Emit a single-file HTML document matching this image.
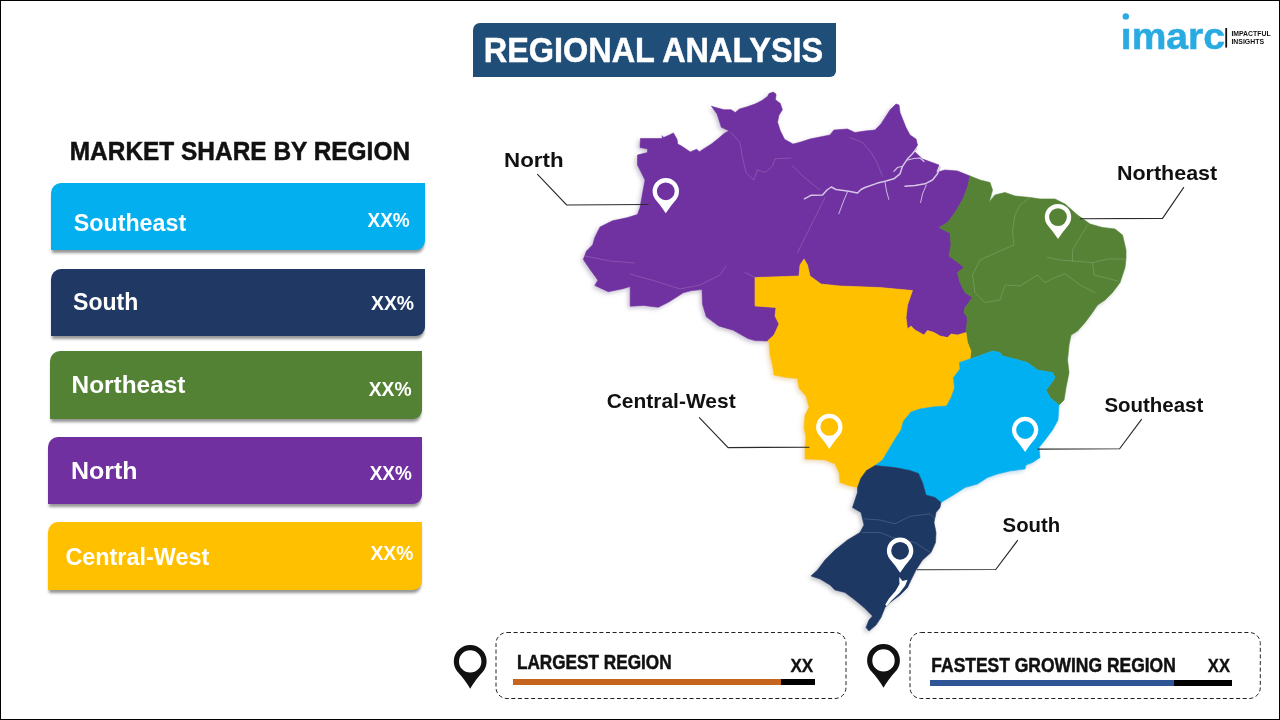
<!DOCTYPE html>
<html><head><meta charset="utf-8"><title>Regional Analysis</title>
<style>
html,body{margin:0;padding:0;}
body{width:1280px;height:720px;position:relative;overflow:hidden;background:#fff;font-family:"Liberation Sans",sans-serif;}
.frame{position:absolute;left:0;top:0;width:1278px;height:718px;border:1px solid #000;}
.t{position:absolute;white-space:nowrap;font-weight:bold;line-height:1;}
.box{position:absolute;border-radius:10px 0 9px 0;box-shadow:0 4px 3px -1px rgba(0,0,0,.42);}
.lbl{color:#111;font-size:20.5px;}
.bt{color:#fff;font-size:23px;}
.pc{color:#fff;font-size:19.5px;}
.dash{position:absolute;border:1px dashed #222;border-radius:11px;box-sizing:border-box;}
</style></head><body>
<div class="frame"></div>
<svg width="1280" height="720" viewBox="0 0 1280 720" style="position:absolute;left:0;top:0">
<defs>
<filter id="ms" x="-10%" y="-10%" width="120%" height="120%"><feGaussianBlur in="SourceGraphic" stdDeviation="2.2"/><feOffset dx="-2.5" dy="2"/><feColorMatrix type="matrix" values="0.5 0 0 0 0.15  0 0.5 0 0 0.15  0 0 0.5 0 0.15  0 0 0 0.42 0"/><feMerge><feMergeNode/><feMergeNode in="SourceGraphic"/></feMerge></filter>
</defs>
<g filter="url(#ms)" stroke-linejoin="round">
<path d="M767.5,341 L755,340.6 L747.9,338.5 L733.3,330.2 L718.75,326 L706.25,316.7 L702.5,304.2 L702,289.6 L691.7,290.6 L683.3,292.7 L668.75,302 L658.3,307.3 L643.75,305.4 L630.2,306.25 L630.2,286.5 L622.9,288.7 L608.3,291.7 L594.8,285.4 L597.9,280.2 L589.6,268.75 L583.3,259.4 L586.5,251 L592.7,244.8 L594.8,237.5 L600,227 L612.5,220.8 L627,217.7 L637.5,214.6 L640,207.5 L645,180 L637.5,165 L637.5,155 L647.5,152.5 L647.5,149 L640,147.5 L640.4,138.5 L662.2,138.5 L662.2,135.7 L663.6,137.6 L667.8,135.7 L673.4,132.9 L677,139.2 L677.7,144.1 L681.9,146.3 L690.3,151.9 L696.6,149.3 L699.5,151.7 L704.4,148.4 L711.4,144.1 L718.4,138.5 L724,133.6 L729,130.8 L721.3,127.3 L719.1,120.2 L717,113.9 L711.4,106.2 L718.4,108.3 L724.1,109.7 L731.1,109.7 L735.3,112.5 L739.5,109 L746.6,106.9 L755,104.1 L762,100.5 L767.7,96.3 L769.1,93.5 L773.3,92.1 L776.1,94.2 L775.4,99.8 L780.3,103.4 L782.4,109.7 L778.9,115.3 L777.5,122.3 L780.3,130.8 L784.5,139.2 L793,144.1 L800,142.3 L810,139 L830,135 L834,130 L847.5,129 L855,132.5 L865,131 L875,130 L881,124 L890,110 L896,104 L899,105 L900,112.5 L906,127.5 L910,135 L916,139 L917.5,145 L914,151 L922.5,159 L939,165 L936,172.5 L945,170 L957.5,171 L970,176 L967.5,187.5 L962.5,200 L955,212.5 L947.5,222.5 L939,227.5 L950,233 L951,245 L949,256 L960,264 L964,267.5 L957.5,272.5 L960,282.5 L965,292.5 L972.5,297.5 L965,307.5 L964,312.5 L967.5,317.5 L966,332.5 L957.5,335 L951,334 L947.5,337.5 L940,336 L934,332.5 L927.5,330.5 L924,335 L915,330 L911,326 L907.5,329 L906,317.5 L907.5,305 L912.5,290.5 L880,287.5 L840,286 L821,284 L810,276 L807.5,265 L804,259 L800,265 L799,276 L755,277.5 L755,306 L776,307.5 L775,316 L779,324 L774,335Z" fill="#7030a0" stroke="#7030a0" stroke-width="0.6"/>
<path d="M970,176 L980,180 L990,182.5 L992.5,190 L989,202.5 L995,195 L1005,192.5 L1015,196 L1030,197.5 L1040,199 L1055,199 L1065,204 L1077.5,215 L1090,224 L1102.5,227.5 L1115,229 L1122.5,235 L1126,250 L1126,258 L1125,267.5 L1120,282.5 L1112.5,292.5 L1105,300 L1097.5,305 L1092.5,312.5 L1085,322.5 L1077.5,331 L1071,335 L1069,345 L1067.5,360 L1069,372.5 L1066,387.5 L1064,400 L1059,405 L1050,397.5 L1046,390 L1050,385 L1055,377.5 L1052.5,372.5 L1037.5,370 L1027.5,362.5 L1015,359 L1002.5,356 L1000,352.5 L992.5,351 L980,355.5 L970,359 L971,351 L967.5,342.5 L966,332.5 L967.5,317.5 L964,312.5 L965,307.5 L972.5,297.5 L965,292.5 L960,282.5 L957.5,272.5 L964,267.5 L960,264 L949,256 L951,245 L950,233 L939,227.5 L947.5,222.5 L955,212.5 L962.5,200 L967.5,187.5Z" fill="#548235" stroke="#548235" stroke-width="0.6"/>
<path d="M767.5,341 L769,342.5 L770,355 L772.5,365 L774,375 L786,377.6 L797.2,378.4 L799.2,388.5 L806,396 L809,407.5 L805,415 L804,427.5 L806,437.5 L805,447.5 L805,459 L825,460 L835,464 L839,472.5 L840,482.5 L850,486 L857.5,487.5 L861,478 L866.5,470.5 L875,465.5 L882.5,460 L890,447.5 L896,437.5 L901,430 L903.5,421 L911,412 L920,409 L932.5,407 L946.5,406 L951,398 L954.5,388 L953.5,377.5 L960,369 L959.5,362.5 L970,359 L971,351 L967.5,342.5 L966,332.5 L957.5,335 L951,334 L947.5,337.5 L940,336 L934,332.5 L927.5,330.5 L924,335 L915,330 L911,326 L907.5,329 L906,317.5 L907.5,305 L912.5,290.5 L880,287.5 L840,286 L821,284 L810,276 L807.5,265 L804,259 L800,265 L799,276 L755,277.5 L755,306 L776,307.5 L775,316 L779,324 L774,335Z" fill="#ffc000" stroke="#ffc000" stroke-width="0.6"/>
<path d="M970,359 L980,355.5 L992.5,351 L1000,352.5 L1002.5,356 L1015,359 L1027.5,362.5 L1037.5,370 L1052.5,372.5 L1055,377.5 L1050,385 L1046,390 L1050,397.5 L1059,405 L1058,420 L1052.5,430 L1045,440 L1039,447.5 L1040,457.5 L1032.5,462.5 L1026,465 L1025,469 L1010,471 L997.5,474 L987.5,477.5 L977.5,484 L965,487.5 L955,494 L945,500 L941,502.5 L935,497.5 L926,495 L922.5,482.5 L918.5,473.5 L910,470.5 L895,467.5 L875,465.5 L882.5,460 L890,447.5 L896,437.5 L901,430 L903.5,421 L911,412 L920,409 L932.5,407 L946.5,406 L951,398 L954.5,388 L953.5,377.5 L960,369 L959.5,362.5Z" fill="#00b0f0" stroke="#00b0f0" stroke-width="0.6"/>
<path d="M941,502.5 L940,507.5 L936,512.5 L934,522.5 L936,532.5 L935.5,542.5 L931,552.5 L922.5,560 L916,570 L911,580 L907.5,587.5 L900,595 L890,602.5 L885,607.5 L881,617.5 L876,625 L869,631 L866,627.5 L869,620 L872.5,616 L864,607.5 L855,600 L845,592.5 L835,590 L830,585 L820,579 L811,576 L817.5,570 L825,560 L835,550 L847.5,540 L860,532.5 L864,525 L861,512.5 L852.5,507.5 L855,500 L857.5,492.5 L857.5,487.5 L861,478 L866.5,470.5 L875,465.5 L895,467.5 L910,470.5 L918.5,473.5 L922.5,482.5 L926,495 L935,497.5Z" fill="#1f3864" stroke="#1f3864" stroke-width="0.6"/>
</g>
<g fill="none" stroke-linecap="round" stroke-linejoin="round">
<g stroke="#d6c6e6" stroke-width="1.5">
<polyline points="804.4,198.8 811.3,195.2 822.5,195 827,190 831.3,187 836,189.5 840,190 848.8,191.3 857.5,193 861,189.5 865,187.5 877.5,183.1 885,181.3 893.8,178.8 900,173.8 902.5,166.3 907.5,158.8 912.5,153.8 916.3,148.8"/>
<polyline points="905,186.3 915,185.6 925,183.8 932.5,180 937.5,173.8 940,167"/>
<polyline points="893.8,171.3 897.5,167.5 901.5,166.5" stroke-width="1.2"/>
<polyline points="907.5,160 914,158.5 920,158 924,161.5" stroke-width="1.2"/>
</g>
<g stroke="#d6c6e6" stroke-width="0.9">
<polyline points="847.5,191.9 844,200 838.8,213.8"/>
<polyline points="885,181.9 886.5,191 888.8,199.4"/>
<polyline points="926.3,185 922.5,194 920.6,202.5"/>
</g>
<g stroke="#fff" stroke-opacity="0.2" stroke-width="0.8">
<polyline points="731,132.5 740,142.5 742.5,157.5 746,172.5 753.8,180 757.5,170 765,172.5 772.5,166 775,158.8 791,158"/>
<polyline points="792.5,166 805,178 820,190"/>
<polyline points="825,197.5 810,227.5 797.5,252.5"/>
<polyline points="850,137.5 862.5,142.5 871.3,152.5 877.5,163.8 882.5,176.3"/>
<polyline points="585,256 610,261 635,263"/>
<polyline points="630,274 655,281 680,289 700,285 710,280 720,275 726,266"/>
<polyline points="745,272.5 755,277.5"/>
<polyline points="1030,197.5 1020,205 1015,215 1012.5,230 1013.8,245 1000,251 980,260 972.5,275 975,292.5 985,302.5 1000,300 1005,285 1020,286 1037.5,275 1045,282.5 1055,277.5 1065,273.8 1080,285 1095,292.5"/>
<polyline points="1087.5,225 1080,237.5 1072.5,250 1072.5,261 1060,260 1047.5,257.5"/>
<polyline points="1072.5,261 1092.5,262.5 1108,259 1125,259"/>
<polyline points="1092.5,262.5 1094,275 1118,281"/>
<polyline points="863.8,518.8 880,520 895,523.8 910,516.3 930,513.8 936,520"/>
<polyline points="862.5,532.5 880,532.5 892.5,537.5 915,542.5 930,552.5"/>
</g>
</g>
<path d="M899.2,577 L902.5,581 L907.5,579.8 L905.3,585.5 L899.5,593 L891.5,600.5 L886.5,606.2 L885.3,604.5 L889,598.5 L895.5,591 L899.5,584Z" fill="#fff"/>

<path d="M655.24,199.22 A13.2,13.2 0 1 1 676.36,199.22 Q670.09,206.46 665.8,213.3 Q661.51,206.46 655.24,199.22 Z M674.6999999999999,191.3 A8.9,8.9 0 1 0 656.9,191.3 A8.9,8.9 0 1 0 674.6999999999999,191.3 Z" fill="#fff" fill-rule="evenodd"/>
<path d="M1047.44,225.02 A13.2,13.2 0 1 1 1068.56,225.02 Q1062.29,232.26 1058,239.1 Q1053.71,232.26 1047.44,225.02 Z M1066.9,217.1 A8.9,8.9 0 1 0 1049.1,217.1 A8.9,8.9 0 1 0 1066.9,217.1 Z" fill="#fff" fill-rule="evenodd"/>
<path d="M818.74,434.82 A13.2,13.2 0 1 1 839.86,434.82 Q833.59,442.06 829.3,448.9 Q825.01,442.06 818.74,434.82 Z M838.1999999999999,426.9 A8.9,8.9 0 1 0 820.4,426.9 A8.9,8.9 0 1 0 838.1999999999999,426.9 Z" fill="#fff" fill-rule="evenodd"/>
<path d="M1014.54,437.92 A13.2,13.2 0 1 1 1035.66,437.92 Q1029.39,445.16 1025.1,452.0 Q1020.81,445.16 1014.54,437.92 Z M1034.0,430.0 A8.9,8.9 0 1 0 1016.1999999999999,430.0 A8.9,8.9 0 1 0 1034.0,430.0 Z" fill="#fff" fill-rule="evenodd"/>
<path d="M889.54,558.72 A13.2,13.2 0 1 1 910.66,558.72 Q904.39,565.96 900.1,572.8 Q895.81,565.96 889.54,558.72 Z M909.0,550.8 A8.9,8.9 0 1 0 891.2,550.8 A8.9,8.9 0 1 0 909.0,550.8 Z" fill="#fff" fill-rule="evenodd"/>
<g fill="none" stroke="#2a2a2a" stroke-width="1.15">
<polyline points="537.3,174.2 566.6,205 648.6,204.5"/>
<polyline points="1183.9,187.2 1162.5,218.4 1080,218.7"/>
<polyline points="699.1,417.3 728.1,447.6 809.4,447.2"/>
<polyline points="1141.7,419.2 1119.6,448.8 1037.7,449.1"/>
<polyline points="1017.8,540.2 995.7,569.5 916.9,569.7"/>
</g>
</svg>
<div class="box" style="left:473px;top:23px;width:363px;height:53.5px;background:#1f4e79;border-radius:7px 0 6px 0;box-shadow:none"></div>
<div class="box" style="left:51.3px;top:183px;width:373.7px;height:67px;background:#04aff0"></div>
<div class="box" style="left:51.3px;top:268.8px;width:373.7px;height:67.2px;background:#1f3864"></div>
<div class="box" style="left:50px;top:351px;width:372.2px;height:67.8px;background:#548235"></div>
<div class="box" style="left:48px;top:437px;width:374.2px;height:67.4px;background:#7030a0"></div>
<div class="box" style="left:48px;top:522.2px;width:374.2px;height:67.8px;background:#ffc000"></div>

<div style="position:absolute;left:512.8px;top:679px;width:268.4px;height:6px;background:#c5641c"></div>
<div style="position:absolute;left:781.2px;top:679px;width:33.8px;height:6px;background:#000"></div>
<div style="position:absolute;left:929.9px;top:680px;width:244.4px;height:6px;background:#2f5597"></div>
<div style="position:absolute;left:1174.3px;top:680px;width:57.4px;height:6px;background:#000"></div>
<svg width="1280" height="720" viewBox="0 0 1280 720" style="position:absolute;left:0;top:0;pointer-events:none">
<path d="M457.06,671.22 A16.4,16.4 0 1 1 483.34,671.22 Q474.80,680.40 470.2,688.8 Q465.60,680.40 457.06,671.22 Z M481.4,661.4 A11.2,11.2 0 1 0 459.0,661.4 A11.2,11.2 0 1 0 481.4,661.4 Z" fill="#111" fill-rule="evenodd"/>
<path d="M870.36,670.22 A16.4,16.4 0 1 1 896.64,670.22 Q888.10,679.40 883.5,687.8 Q878.90,679.40 870.36,670.22 Z M894.7,660.4 A11.2,11.2 0 1 0 872.3,660.4 A11.2,11.2 0 1 0 894.7,660.4 Z" fill="#111" fill-rule="evenodd"/>
<g font-family="Liberation Sans, sans-serif" font-weight="bold">
<text transform="translate(483.72,62.20) scale(0.9386,1)" font-size="34.57" fill="#fff" stroke="#fff" stroke-width="0.5">REGIONAL ANALYSIS</text>
<text transform="translate(69.76,160.40) scale(0.9350,1)" font-size="26.14" fill="#111" stroke="#111" stroke-width="0.5">MARKET SHARE BY REGION</text>
<text transform="translate(73.75,230.75) scale(0.9692,1)" font-size="24" fill="#fff">Southeast</text>
<text transform="translate(73.00,309.50) scale(0.9613,1)" font-size="24" fill="#fff">South</text>
<text transform="translate(71.60,393.00) scale(1.0167,1)" font-size="24" fill="#fff">Northeast</text>
<text transform="translate(70.97,479.00) scale(1.0399,1)" font-size="24" fill="#fff">North</text>
<text transform="translate(65.40,564.70) scale(0.9750,1)" font-size="24" fill="#fff">Central-West</text>
<text transform="translate(367.50,226.75) scale(0.9054,1)" font-size="21" fill="#fff">XX%</text>
<text transform="translate(371.00,309.50) scale(0.9242,1)" font-size="21" fill="#fff">XX%</text>
<text transform="translate(368.70,396.00) scale(0.9184,1)" font-size="21" fill="#fff">XX%</text>
<text transform="translate(369.70,480.20) scale(0.9026,1)" font-size="21" fill="#fff">XX%</text>
<text transform="translate(370.50,559.70) scale(0.9163,1)" font-size="21" fill="#fff">XX%</text>
<text transform="translate(504.08,166.70) scale(1.1154,1)" font-size="20" fill="#111">North</text>
<text transform="translate(1116.93,179.70) scale(1.0747,1)" font-size="20" fill="#111">Northeast</text>
<text transform="translate(606.70,408.00) scale(1.0489,1)" font-size="20" fill="#111">Central-West</text>
<text transform="translate(1104.40,411.90) scale(1.0235,1)" font-size="20" fill="#111">Southeast</text>
<text transform="translate(1002.60,531.90) scale(1.0174,1)" font-size="20" fill="#111">South</text>
<text transform="translate(516.93,669.20) scale(0.8599,1)" font-size="20" fill="#111" stroke="#111" stroke-width="0.5">LARGEST REGION</text>
<text transform="translate(790.40,671.50) scale(0.9366,1)" font-size="18.3" fill="#111" stroke="#111" stroke-width="0.3">XX</text>
<text transform="translate(931.36,671.50) scale(0.8732,1)" font-size="20" fill="#111" stroke="#111" stroke-width="0.5">FASTEST GROWING REGION</text>
<text transform="translate(1207.80,671.50) scale(0.9088,1)" font-size="18.3" fill="#111" stroke="#111" stroke-width="0.3">XX</text>
</g>
<g font-family="Liberation Sans, sans-serif" font-weight="bold">
<text transform="translate(1120.8,49.1) scale(1.07,1)" font-size="36.5" fill="#29abe2" stroke="#29abe2" stroke-width="0.5">imarc</text>
<rect x="1119" y="19.6" width="12" height="8.4" fill="#fff"/>
<circle cx="1125.8" cy="16.4" r="3.2" fill="#29abe2"/>
<rect x="1225.3" y="28" width="1.8" height="19.6" fill="#111"/>
<text x="1231.4" y="36.3" font-size="7" fill="#111" textLength="39.2" lengthAdjust="spacingAndGlyphs">IMPACTFUL</text>
<text x="1231.4" y="44.2" font-size="7" fill="#111" textLength="32.6" lengthAdjust="spacingAndGlyphs">INSIGHTS</text>
</g>
<rect x="496" y="632.5" width="350" height="66" rx="11" fill="none" stroke="#222" stroke-width="1" stroke-dasharray="4 2.6"/>
<rect x="910" y="632.5" width="350.3" height="66" rx="11" fill="none" stroke="#222" stroke-width="1" stroke-dasharray="4 2.6"/>
</svg>
</body></html>
